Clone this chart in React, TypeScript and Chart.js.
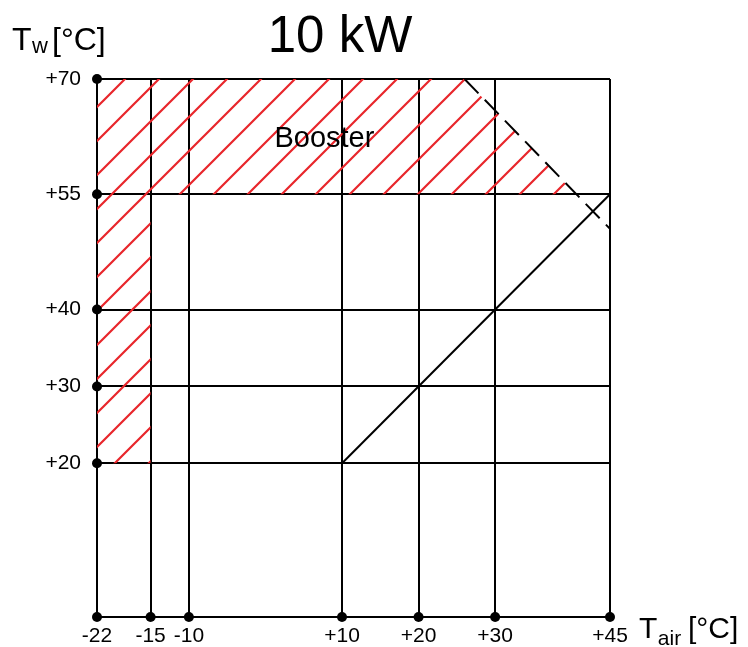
import React, { useEffect, useRef } from "react";
import { Chart, registerables } from "chart.js";

Chart.register(...registerables);

const FONT = "'Liberation Sans', Arial, sans-serif";

// Axis ticks
const xTicks = [-22, -15, -10, 10, 20, 30, 45];
const xTickLabels = ["-22", "-15", "-10", "+10", "+20", "+30", "+45"];
const yTicks = [0, 20, 30, 40, 55, 70];
const yTickLabels = ["", "+20", "+30", "+40", "+55", "+70"];

// Marked points on the axes
const leftDotsY = [20, 30, 40, 55, 70];
const bottomDotsX = [-22, -15, -10, 10, 20, 30, 45];

// Lines
const diagonalX = [10, 45];
const diagonalY = [20, 55];
const dashedX = [26, 45];
const dashedY = [70, 50.5];

// Booster hatched area (polygon)
const boosterX = [-22, -22, 26, 40.5, -15, -15];
const boosterY = [20, 70, 70, 55, 55, 20];

const zip = (xs: number[], ys: number[]) => xs.map((x, i) => ({ x, y: ys[i] }));

function makeHatch(): CanvasPattern | string {
  const s = 34;
  const c = document.createElement("canvas");
  c.width = s;
  c.height = s;
  const g = c.getContext("2d");
  if (!g) return "rgba(230,40,40,0.3)";
  g.strokeStyle = "#e8262b";
  g.lineWidth = 2.2;
  g.lineCap = "square";
  g.beginPath();
  g.moveTo(-2, s + 2);
  g.lineTo(s + 2, -2);
  g.moveTo(-2, 2);
  g.lineTo(2, -2);
  g.moveTo(s - 2, s + 2);
  g.lineTo(s + 2, s - 2);
  g.stroke();
  const p = g.createPattern(c, "repeat");
  return p || "rgba(230,40,40,0.3)";
}

const textPlugin = {
  id: "texts",
  afterDraw(chart: any) {
    const ctx = chart.ctx as CanvasRenderingContext2D;
    const xs = chart.scales.x;
    const ys = chart.scales.y;
    ctx.save();
    ctx.fillStyle = "#000";
    ctx.textBaseline = "alphabetic";

    // Title
    ctx.font = `51px ${FONT}`;
    ctx.textAlign = "center";
    ctx.fillText("10 kW", 340, 52);

    // Tw [°C]
    ctx.textAlign = "left";
    ctx.font = `32px ${FONT}`;
    ctx.fillText("T", 12, 50);
    const tW = ctx.measureText("T").width;
    ctx.font = `22px ${FONT}`;
    ctx.fillText("w", 12 + tW + 0.5, 53);
    ctx.font = `32px ${FONT}`;
    ctx.fillText("[°C]", 52, 50);

    // Booster
    ctx.font = `29px ${FONT}`;
    ctx.textAlign = "center";
    ctx.fillText("Booster", xs.getPixelForValue(7.7), ys.getPixelForValue(61.2));

    // Tair [°C]
    ctx.textAlign = "left";
    ctx.font = `30px ${FONT}`;
    ctx.fillText("T", 639, 638);
    const tA = ctx.measureText("T").width;
    ctx.font = `21px ${FONT}`;
    ctx.fillText("air", 639 + tA + 0.5, 645);
    ctx.font = `30px ${FONT}`;
    ctx.fillText("[°C]", 688, 638);
    ctx.restore();
  },
};

export default function App() {
  const ref = useRef<HTMLCanvasElement | null>(null);

  useEffect(() => {
    document.body.style.margin = "0";
    if (!ref.current) return;
    const hatch = makeHatch();
    const dots = [
      ...zip(leftDotsY.map(() => -22), leftDotsY),
      ...zip(bottomDotsX, bottomDotsX.map(() => 0)),
    ];
    const chart = new Chart(ref.current, {
      type: "scatter",
      data: {
        datasets: [
          {
            data: dots,
            pointRadius: 5,
            pointBackgroundColor: "#000",
            pointBorderColor: "#000",
            pointBorderWidth: 0,
            showLine: false,
            clip: false,
            order: 0,
          } as any,
          {
            data: zip(diagonalX, diagonalY),
            showLine: true,
            borderColor: "#000",
            borderWidth: 2,
            pointRadius: 0,
            fill: false,
            clip: false,
            order: 1,
          } as any,
          {
            data: zip(dashedX, dashedY),
            showLine: true,
            borderColor: "#000",
            borderWidth: 2,
            borderDash: [20, 9],
            pointRadius: 0,
            fill: false,
            clip: false,
            order: 2,
          } as any,
          {
            data: zip(boosterX, boosterY),
            showLine: true,
            borderWidth: 0,
            borderColor: "rgba(0,0,0,0)",
            backgroundColor: hatch,
            pointRadius: 0,
            fill: "shape",
            order: 3,
          } as any,
        ],
      },
      options: {
        animation: false,
        responsive: false,
        events: [],
        layout: { padding: { top: 79, right: 138, left: 0, bottom: 0 } },
        plugins: {
          legend: { display: false },
          tooltip: { enabled: false },
          title: { display: false },
        },
        scales: {
          x: {
            type: "linear",
            min: -22,
            max: 45,
            afterBuildTicks: (s: any) => {
              s.ticks = xTicks.map((v) => ({ value: v }));
            },
            afterFit: (s: any) => {
              s.height = 30;
            },
            ticks: {
              autoSkip: false,
              maxRotation: 0,
              padding: 7,
              color: "#000",
              font: { family: FONT, size: 21 },
              callback: (_v: any, i: number) => xTickLabels[i],
            },
            grid: { color: "#000", lineWidth: 2, drawTicks: false },
            border: { color: "#000", width: 2 },
          },
          y: {
            type: "linear",
            min: 0,
            max: 70,
            afterBuildTicks: (s: any) => {
              s.ticks = yTicks.map((v) => ({ value: v }));
            },
            afterFit: (s: any) => {
              s.width = 97;
            },
            ticks: {
              autoSkip: false,
              padding: 16,
              color: "#000",
              font: { family: FONT, size: 21 },
              callback: (_v: any, i: number) => yTickLabels[i],
            },
            grid: { color: "#000", lineWidth: 2, drawTicks: false },
            border: { color: "#000", width: 2 },
          },
        },
      } as any,
      plugins: [textPlugin],
    });
    return () => chart.destroy();
  }, []);

  return (
    <div style={{ width: 748, height: 647, background: "#fff" }}>
      <canvas ref={ref} width={748} height={647} style={{ display: "block" }} />
    </div>
  );
}
